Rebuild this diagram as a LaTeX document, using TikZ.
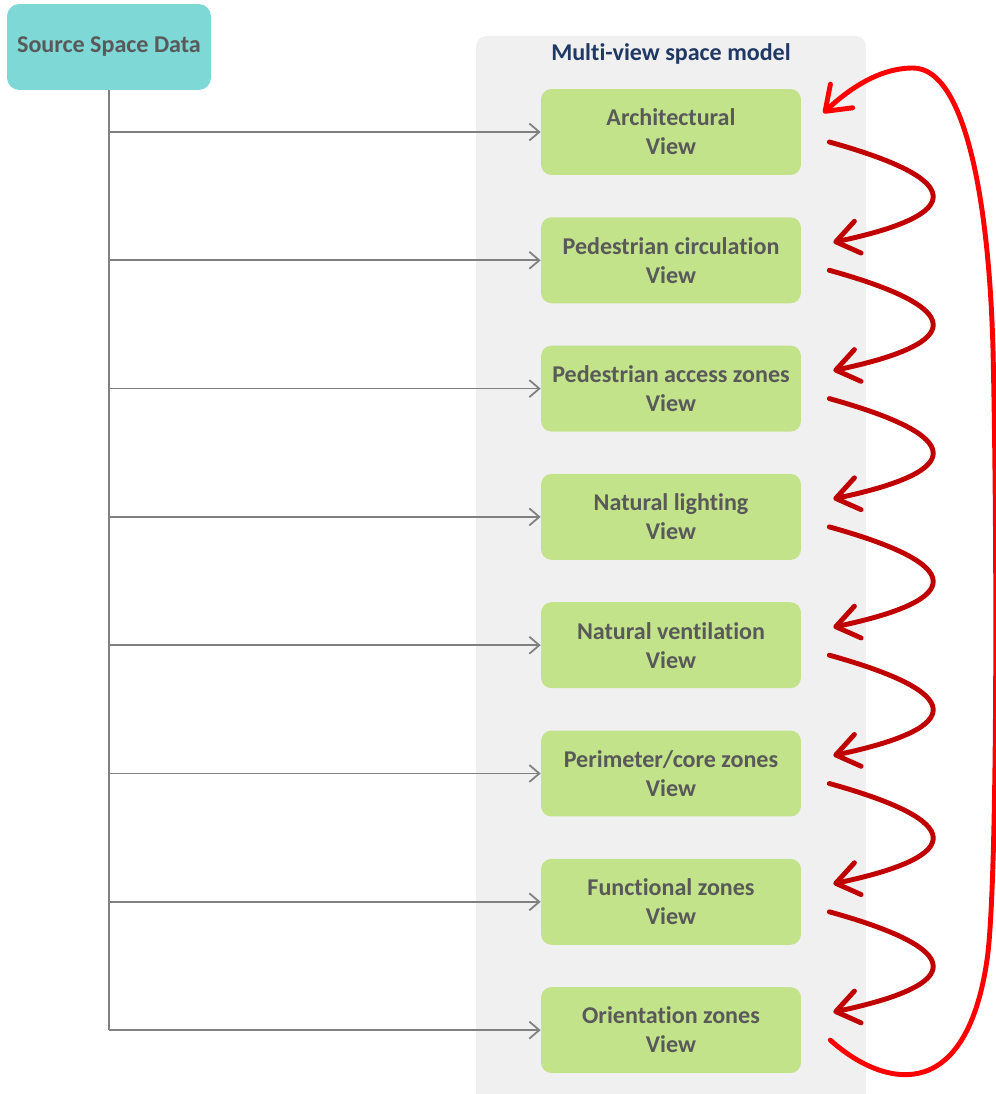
\documentclass[tikz,border=0pt]{standalone}
\usepackage{fontspec}
\setmainfont[Ligatures=NoCommon]{Carlito}
\usetikzlibrary{arrows.meta,calc}
\definecolor{srcteal}{HTML}{7DD8D6}
\definecolor{viewgreen}{HTML}{C2E38A}
\definecolor{panelgray}{HTML}{F0F0F0}
\definecolor{textgray}{HTML}{595959}
\definecolor{titleblue}{HTML}{1F3864}
\definecolor{linkred}{HTML}{C00000}
\definecolor{loopred}{HTML}{FF0000}
\tikzset{
  boxfont/.style={font=\bfseries\fontsize{13.7}{16.5}\selectfont},
  viewbox/.style={boxfont, fill=viewgreen, rounded corners=6pt, text=textgray,
    align=center, inner sep=0pt, minimum width=5.2cm, minimum height=1.72cm},
  srcbox/.style={boxfont, fill=srcteal, rounded corners=7pt, text=textgray,
    inner sep=0pt, minimum width=4.08cm, minimum height=1.72cm},
  feed/.style={draw=gray, line width=1pt},
  feedtip/.style={feed, -{Straight Barb[length=2mm,width=3.4mm]}},
  link/.style={draw=linkred, line width=2.8pt, line cap=round,
    -{Straight Barb[length=4.5mm,width=6.5mm,round]}},
}
\begin{document}
\begin{tikzpicture}[x=0.02cm, y=-0.02cm]
\useasboundingbox (0,0) rectangle (995,1094);

% panel
\fill[panelgray, rounded corners=6pt] (476,36) rectangle (866,1110);
\node[boxfont, text=titleblue] (title) at (671,54) {Multi-view space model};

\node[srcbox] (src) at (109,47) {Source Space Data};

\foreach \name [count=\i] in {Architectural, Pedestrian circulation,
    Pedestrian access zones, Natural lighting, Natural ventilation,
    {Perimeter/core zones}, Functional zones, Orientation zones}
  {
    \node[viewbox] (v\i) at (671,{132+128.3*(\i-1)}) {\name\\View};
    \draw[feedtip] (src.south |- v\i.west) -- (v\i.west);
  }
\draw[feed] (src.south) -- (src.south |- v8.west);

\foreach \i [evaluate=\i as \j using int(\i+1)] in {1,...,7}
  {
    \draw[link] ($(v\i.east)+(28,10)$) .. controls ($(v\i.east)+(165,48)$)
      and ($(v\j.east)+(165,-46)$) .. ($(v\j.east)+(32,-18)$);
  }

\draw[link, draw=loopred] ($(v8.east)+(29,10)$) .. controls (880,1085) and (965,1110) .. (987,960)
  .. controls (998,885) and (997,520) .. (993,350)
  .. controls (989,200) and (965,68) .. (913,68)
  .. controls (880,68) and (850,88) .. ($(v1.east)+(22,-19)$);
\end{tikzpicture}
\end{document}
